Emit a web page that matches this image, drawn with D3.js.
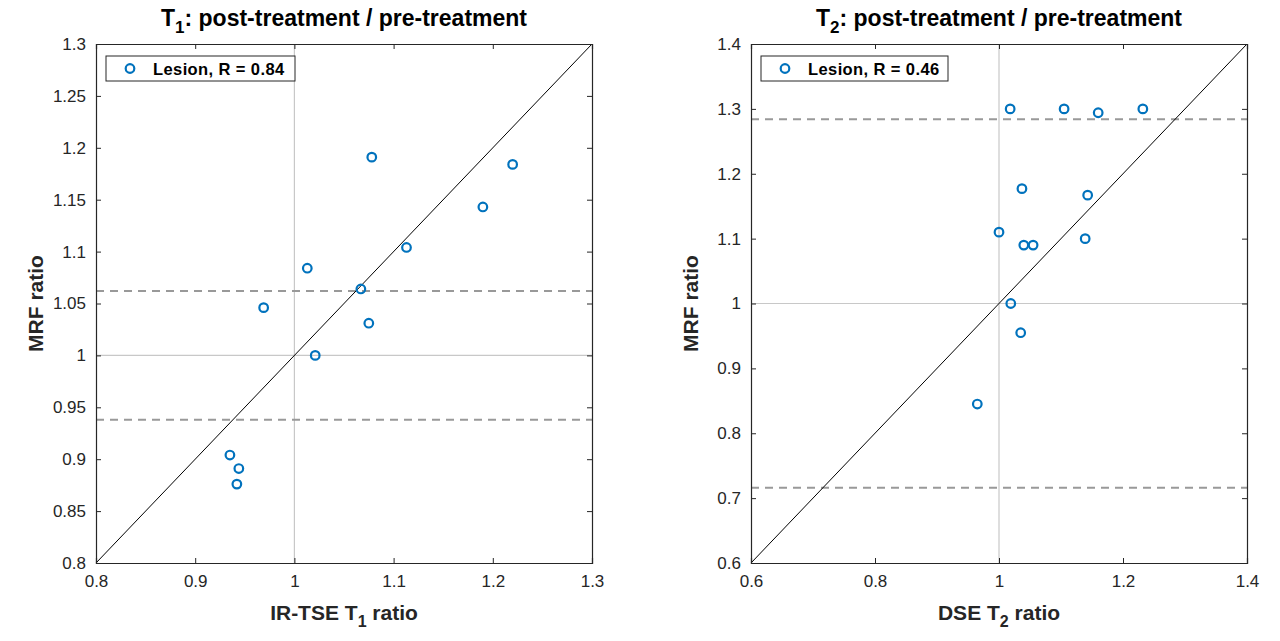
<!DOCTYPE html>
<html>
<head>
<meta charset="utf-8">
<script src="https://cdn.jsdelivr.net/npm/d3@7"></script>
<style>
  body { margin: 0; background: #fff; }
  svg { font-family: "Liberation Sans", Arial, sans-serif; }
</style>
</head>
<body>
<svg id="chart" width="1280" height="641"></svg>
<script>
"use strict";

// T1 panel: IR-TSE ratio vs MRF ratio
var t1Ratio = [0.969, 1.013, 1.021, 1.078, 1.067, 1.075, 1.113, 1.190, 1.220, 0.935, 0.944, 0.942];
var t1Mrf = [1.046, 1.084, 1.000, 1.191, 1.064, 1.031, 1.104, 1.143, 1.184, 0.904, 0.891, 0.876];
var t1Ticks = [0.8, 0.9, 1, 1.1, 1.2, 1.3];
var t1YTicks = [0.8, 0.85, 0.9, 0.95, 1, 1.05, 1.1, 1.15, 1.2, 1.25, 1.3];
var t1Limits = [0.938, 1.062];

// T2 panel: DSE ratio vs MRF ratio
var t2Ratio = [1.018, 1.105, 1.160, 1.232, 1.037, 1.143, 1.000, 1.040, 1.055, 1.139, 1.019, 1.035, 0.965];
var t2Mrf = [1.300, 1.300, 1.294, 1.300, 1.177, 1.167, 1.110, 1.090, 1.090, 1.100, 1.000, 0.955, 0.845];
var t2Ticks = [0.6, 0.8, 1, 1.2, 1.4];
var t2YTicks = [0.6, 0.7, 0.8, 0.9, 1, 1.1, 1.2, 1.3, 1.4];
var t2Limits = [0.716, 1.284];

var svg = d3.select("#chart");
var textColor = "#262626";

function fmt(v) {
    return String(+v.toFixed(2));
}

function drawPanel(p) {
    var x = d3.scaleLinear().domain(p.domain).range([p.left, p.right]);
    var y = d3.scaleLinear().domain(p.domain).range([p.bottom, p.top]);
    var g = svg.append("g");

    // unit reference lines
    g.append("line").attr("x1", x(1)).attr("x2", x(1)).attr("y1", p.top).attr("y2", p.bottom)
        .attr("stroke", "#c8c8c8").attr("stroke-width", 1.2);
    g.append("line").attr("x1", p.left).attr("x2", p.right).attr("y1", y(1)).attr("y2", y(1))
        .attr("stroke", "#c8c8c8").attr("stroke-width", 1.2);

    // limits of agreement
    g.selectAll("line.lim").data(p.limits).enter().append("line").attr("class", "lim")
        .attr("x1", p.left).attr("x2", p.right)
        .attr("y1", function (d) { return y(d); }).attr("y2", function (d) { return y(d); })
        .attr("stroke", "#999").attr("stroke-width", 2).attr("stroke-dasharray", "8,6");

    // identity line
    g.append("line").attr("x1", x(p.domain[0])).attr("y1", y(p.domain[0]))
        .attr("x2", x(p.domain[1])).attr("y2", y(p.domain[1]))
        .attr("stroke", "#000").attr("stroke-width", 1);

    // points
    g.selectAll("circle.pt").data(p.xs).enter().append("circle").attr("class", "pt")
        .attr("cx", function (d) { return x(d); })
        .attr("cy", function (_, i) { return y(p.ys[i]); })
        .attr("r", 4.3).attr("fill", "none").attr("stroke", "#0072BD").attr("stroke-width", 2.2);

    // axes (ticks inside, box on)
    var axB = g.append("g").attr("transform", "translate(0," + p.bottom + ")")
        .call(d3.axisBottom(x).tickValues(p.xTicks).tickSize(-5).tickPadding(12).tickFormat(fmt));
    var axT = g.append("g").attr("transform", "translate(0," + p.top + ")")
        .call(d3.axisTop(x).tickValues(p.xTicks).tickSize(-5).tickFormat(""));
    var axL = g.append("g").attr("transform", "translate(" + p.left + ",0)")
        .call(d3.axisLeft(y).tickValues(p.yTicks).tickSize(-5).tickPadding(10).tickFormat(fmt));
    var axR = g.append("g").attr("transform", "translate(" + p.right + ",0)")
        .call(d3.axisRight(y).tickValues(p.yTicks).tickSize(-5).tickFormat(""));
    [axB, axT, axL, axR].forEach(function (a) {
        a.select(".domain").attr("stroke", textColor).attr("stroke-width", 1.2);
        a.selectAll(".tick line").attr("stroke", textColor);
        a.selectAll("text").attr("fill", textColor).style("font-size", "17px");
    });

    var cx = (p.left + p.right) / 2;

    // title
    var title = g.append("text").attr("x", cx).attr("y", 26).attr("text-anchor", "middle")
        .attr("fill", "#000").style("font-size", "23px").style("font-weight", "bold");
    title.append("tspan").text("T");
    title.append("tspan").text(p.sub).attr("dy", 7).style("font-size", "17px");
    title.append("tspan").text(": post-treatment / pre-treatment").attr("dy", -7);

    // x label
    var xl = g.append("text").attr("x", cx).attr("y", 620).attr("text-anchor", "middle")
        .attr("fill", textColor).style("font-size", "21px").style("font-weight", "bold");
    xl.append("tspan").text(p.xLabel + " T");
    xl.append("tspan").text(p.sub).attr("dy", 7).style("font-size", "16px");
    xl.append("tspan").text(" ratio").attr("dy", -7);

    // y label
    g.append("text").attr("transform", "translate(" + (p.left - 53) + "," + ((p.top + p.bottom) / 2) + ") rotate(-90)")
        .attr("text-anchor", "middle").attr("fill", textColor)
        .style("font-size", "21px").style("font-weight", "bold").text("MRF ratio");

    // legend
    var lg = g.append("g").attr("transform", "translate(" + (p.left + 10) + "," + (p.top + 12) + ")");
    lg.append("rect").attr("width", p.legendW).attr("height", 25).attr("fill", "#fff")
        .attr("stroke", textColor).attr("stroke-width", 1);
    lg.append("circle").attr("cx", 24).attr("cy", 12.5).attr("r", 4.3).attr("fill", "none")
        .attr("stroke", "#0072BD").attr("stroke-width", 2.2);
    lg.append("text").attr("x", 47).attr("y", 18.5).attr("fill", "#000")
        .style("font-size", "16.5px").style("font-weight", "bold").style("letter-spacing", "0.4px")
        .text(p.legend);
}

drawPanel({
    left: 96, right: 592, top: 44, bottom: 563,
    domain: [0.8, 1.3], xTicks: t1Ticks, yTicks: t1YTicks,
    xs: t1Ratio, ys: t1Mrf, limits: t1Limits,
    sub: "1", xLabel: "IR-TSE", legend: "Lesion, R = 0.84", legendW: 189
});

drawPanel({
    left: 751, right: 1247, top: 44, bottom: 563,
    domain: [0.6, 1.4], xTicks: t2Ticks, yTicks: t2YTicks,
    xs: t2Ratio, ys: t2Mrf, limits: t2Limits,
    sub: "2", xLabel: "DSE", legend: "Lesion, R = 0.46", legendW: 187
});
</script>
</body>
</html>
